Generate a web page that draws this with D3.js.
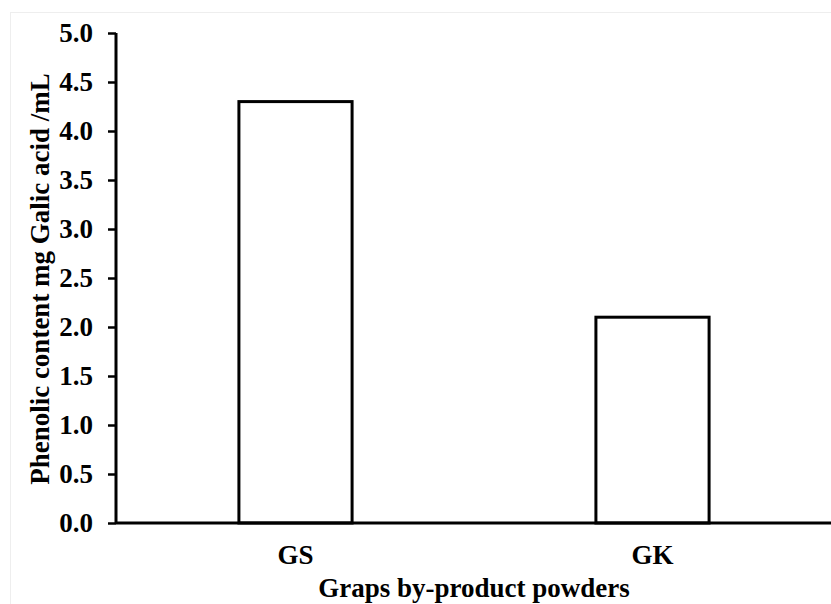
<!DOCTYPE html>
<html>
<head>
<meta charset="utf-8">
<script src="https://cdn.jsdelivr.net/npm/d3@7"></script>
<style>
  body { margin: 0; background: #fff; }
  svg text { font-family: "Liberation Serif", "Times New Roman", serif; font-weight: bold; fill: #000; }
</style>
</head>
<body>
<svg id="chart" width="831" height="604"></svg>
<script>
// data
let categories = ['GS', 'GK'];
let values = [4.3, 2.1];
let yTicks = [0, 0.5, 1, 1.5, 2, 2.5, 3, 3.5, 4, 4.5, 5];

let svg = d3.select('#chart');

// faint frame around the figure
svg.append('rect')
  .attr('x', 10.5).attr('y', 12.5)
  .attr('width', 830).attr('height', 600)
  .attr('fill', 'none')
  .attr('stroke', '#eeeeee');

let x = d3.scaleBand()
  .domain(categories)
  .range([117, 831])
  .paddingInner(0.683)
  .paddingOuter(0.3415);

let y = d3.scaleLinear().domain([0, 5]).range([523, 33]);

// bars
svg.selectAll('.bar')
  .data(categories)
  .enter()
  .append('rect')
    .attr('class', 'bar')
    .attr('x', d => x(d))
    .attr('y', (d, i) => y(values[i]))
    .attr('width', x.bandwidth())
    .attr('height', (d, i) => y(0) - y(values[i]))
    .attr('fill', '#fff')
    .attr('stroke', '#000')
    .attr('stroke-width', 3);

// y axis
let yAxis = d3.axisLeft(y)
  .tickValues(yTicks)
  .tickFormat(d3.format('.1f'))
  .tickSize(8)
  .tickPadding(15);

let yAxisSvg = svg.append('g')
  .attr('transform', 'translate(116,0)')
  .call(yAxis);
yAxisSvg.select('.domain').remove();
yAxisSvg.append('line')
  .attr('x1', 0).attr('x2', 0)
  .attr('y1', y(5)).attr('y2', y(0))
  .attr('stroke', '#000').attr('stroke-width', 3);
yAxisSvg.selectAll('.tick line').attr('stroke', '#000').attr('stroke-width', 2.5);
yAxisSvg.selectAll('.tick text')
  .style('font-size', '27px')
  .style('font-family', '"Liberation Serif", serif')
  .style('font-weight', 'bold');

// x axis
let xAxis = d3.axisBottom(x).tickSize(0).tickPadding(22);
let xAxisSvg = svg.append('g')
  .attr('transform', `translate(0,${y(0)})`)
  .call(xAxis);
xAxisSvg.select('.domain').remove();
xAxisSvg.append('line')
  .attr('x1', 116).attr('x2', 831)
  .attr('y1', 0).attr('y2', 0)
  .attr('stroke', '#000').attr('stroke-width', 3);
xAxisSvg.selectAll('.tick text')
  .attr('dy', null)
  .attr('y', 41)
  .style('font-size', '27px')
  .style('font-family', '"Liberation Serif", serif')
  .style('font-weight', 'bold');

// axis titles
svg.append('text')
  .attr('x', 474).attr('y', 597)
  .attr('text-anchor', 'middle')
  .style('font-size', '27px')
  .text('Graps by-product powders');

svg.append('text')
  .attr('transform', 'translate(49,279) rotate(-90)')
  .attr('text-anchor', 'middle')
  .style('font-size', '27px')
  .text('Phenolic content mg Galic acid /mL');
</script>
</body>
</html>
